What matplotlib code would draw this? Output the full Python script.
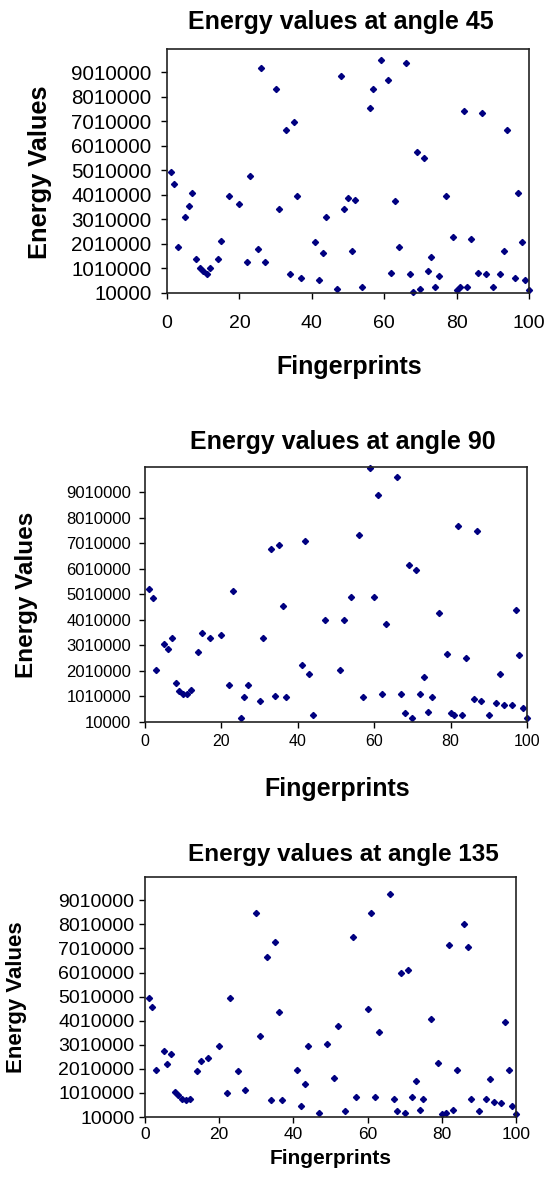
import numpy as np
import matplotlib
matplotlib.use('Agg')
import matplotlib.pyplot as plt

plt.rcParams['font.family'] = ['Liberation Sans', 'DejaVu Sans']

# fingerprint index and energy values (millions)
x45 = [1, 2, 3, 5, 6, 7, 8, 9, 10, 11, 12, 14, 15, 17, 20, 22, 23, 25, 26, 27,
       30, 31, 33, 34, 35, 36, 37, 41, 42, 43, 44, 47, 48, 49, 50, 51, 52, 54,
       56, 57, 59, 61, 62, 63, 64, 66, 67, 68, 69, 70, 71, 72, 73, 74, 75, 77,
       79, 80, 81, 82, 83, 84, 86, 87, 88, 90, 92, 93, 94, 96, 97, 98, 99, 100]
e45 = [4.91, 4.45, 1.87, 3.09, 3.54, 4.06, 1.40, 1.01, 0.90, 0.76, 1.01, 1.40,
       2.12, 3.94, 3.61, 1.28, 4.78, 1.80, 9.16, 1.28, 8.33, 3.42, 6.64, 0.76,
       6.98, 3.94, 0.63, 2.06, 0.51, 1.61, 3.09, 0.18, 8.85, 3.42, 3.87, 1.73,
       3.80, 0.25, 7.54, 8.33, 9.50, 8.66, 0.83, 3.73, 1.87, 9.37, 0.76, 0.04,
       5.75, 0.18, 5.49, 0.90, 1.47, 0.25, 0.69, 3.94, 2.30, 0.11, 0.25, 7.42,
       0.25, 2.18, 0.83, 7.35, 0.76, 0.25, 0.76, 1.73, 6.64, 0.63, 4.06, 2.06,
       0.51, 0.11]

x90 = [1, 2, 3, 5, 6, 7, 8, 9, 10, 11, 12, 14, 15, 17, 20, 22, 23, 25, 26, 27,
       30, 31, 33, 34, 35, 36, 37, 41, 42, 43, 44, 47, 51, 52, 54, 56, 57, 59,
       60, 61, 62, 63, 66, 67, 68, 69, 70, 71, 72, 73, 74, 75, 77, 79, 80, 81,
       82, 83, 84, 86, 87, 88, 90, 92, 93, 94, 96, 97, 98, 99, 100]
e90 = [5.20, 4.84, 2.05, 3.05, 2.86, 3.30, 1.51, 1.21, 1.08, 1.08, 1.26, 2.74,
       3.48, 3.30, 3.42, 1.44, 5.13, 0.16, 0.96, 1.44, 0.83, 3.30, 6.79, 1.01,
       6.92, 4.53, 0.96, 2.25, 7.10, 1.87, 0.27, 3.98, 2.05, 3.98, 4.90, 7.30,
       0.96, 9.95, 4.90, 8.90, 1.08, 3.85, 9.57, 1.08, 0.34, 6.13, 0.16, 5.93,
       1.08, 1.76, 0.40, 0.96, 4.28, 2.68, 0.34, 0.27, 7.66, 0.27, 2.50, 0.90,
       7.48, 0.83, 0.27, 0.76, 1.87, 0.65, 0.65, 4.39, 2.61, 0.53, 0.16]

x135 = [1, 2, 3, 5, 6, 7, 8, 9, 10, 11, 12, 14, 15, 17, 20, 22, 23, 25, 27, 30,
        31, 33, 34, 35, 36, 37, 41, 42, 43, 44, 47, 49, 51, 52, 54, 56, 57, 60,
        61, 62, 63, 66, 67, 68, 69, 70, 71, 72, 73, 74, 75, 77, 79, 80, 81, 82,
        83, 84, 86, 87, 88, 90, 92, 93, 94, 96, 97, 98, 99, 100]
e135 = [4.93, 4.59, 1.97, 2.73, 2.20, 2.62, 1.05, 0.93, 0.75, 0.69, 0.75, 1.91,
        2.31, 2.44, 2.97, 0.98, 4.93, 1.91, 1.11, 8.46, 3.37, 6.66, 0.69, 7.26,
        4.35, 0.69, 1.97, 0.46, 1.39, 2.97, 0.17, 3.02, 1.62, 3.78, 0.24, 7.48,
        0.82, 4.47, 8.46, 0.82, 3.55, 9.28, 0.75, 0.24, 5.97, 0.17, 6.09, 0.82,
        1.51, 0.29, 0.75, 4.06, 2.26, 0.12, 0.17, 7.13, 0.29, 1.97, 8.01, 7.08,
        0.75, 0.24, 0.75, 1.57, 0.64, 0.58, 3.95, 1.97, 0.46, 0.12]

angles = [45, 90, 135]
yticks = [10000 + 1000000 * k for k in range(10)]
xticks = [0, 20, 40, 60, 80, 100]

W, H = 547, 1190
fig = plt.figure(figsize=(W / 100, H / 100), dpi=100)


def px_axes(l, t, r, b):
    return fig.add_axes([l / W, 1 - b / H, (r - l) / W, (b - t) / H])


# per panel: axes box (px), y max, font sizes, text positions (px)
panels = [
    dict(box=(167, 49, 529, 293), ymax=9.95e6, tfs=18, ytfs=14.8, xtfs=14,
         ylfs=18.3, xlfs=18, title=(341, 29), ylab=(40, 172),
         xlab=(349, 374), xtpad=11.5, ytpad=6.5),
    dict(box=(145, 467, 527, 722), ymax=9.99e6, tfs=18, ytfs=12, xtfs=11.5,
         ylfs=17.5, xlfs=18, title=(343, 449), ylab=(27, 595),
         xlab=(337, 796), xtpad=4, ytpad=5.5),
    dict(box=(145, 877, 516, 1117), ymax=9.98e6, tfs=17.5, ytfs=14,
         xtfs=12.5, ylfs=16, xlfs=15, title=(343, 861), ylab=(17, 997),
         xlab=(331, 1164), xtpad=2.5, ytpad=3),
]
series = [(x45, e45), (x90, e90), (x135, e135)]

for ang, p, (xs, es) in zip(angles, panels, series):
    ax = px_axes(*p['box'])
    vals = np.array(es) * 1e6 + 10000
    ax.plot(xs, vals, linestyle='none', marker='D', markersize=3.1,
            color='#000080', clip_on=False)
    ax.set_xlim(0, 100)
    ax.set_ylim(10000, p['ymax'])
    ax.set_xticks(xticks)
    ax.set_yticks(yticks)
    ax.set_yticklabels([str(v) for v in yticks])
    ax.tick_params(direction='out', length=4.5, width=1, colors='black')
    ax.tick_params(axis='x', pad=p['xtpad'], labelsize=p['xtfs'])
    ax.tick_params(axis='y', pad=p['ytpad'], labelsize=p['ytfs'])
    for s in ax.spines.values():
        s.set_linewidth(1.2)
        s.set_color('#222222')
    fig.text(p['title'][0] / W, 1 - p['title'][1] / H,
             'Energy values at angle %d' % ang, ha='center', va='baseline',
             fontsize=p['tfs'], fontweight='bold')
    fig.text(p['ylab'][0] / W, 1 - p['ylab'][1] / H, 'Energy Values',
             ha='center', va='center', rotation=90, fontsize=p['ylfs'],
             fontweight='bold')
    fig.text(p['xlab'][0] / W, 1 - p['xlab'][1] / H, 'Fingerprints',
             ha='center', va='baseline', fontsize=p['xlfs'], fontweight='bold')

fig.savefig('out.png', dpi=100)
